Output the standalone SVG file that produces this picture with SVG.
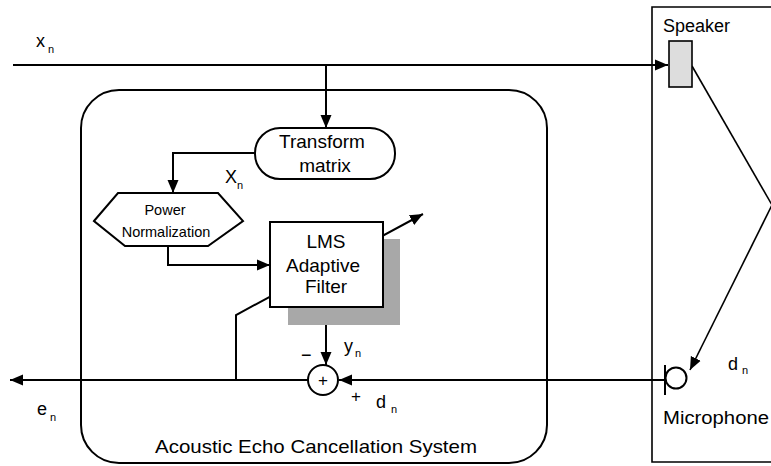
<svg xmlns="http://www.w3.org/2000/svg" width="771" height="466" viewBox="0 0 771 466">
<defs>
<marker id="ah" markerUnits="userSpaceOnUse" markerWidth="14" markerHeight="12" refX="13" refY="6" orient="auto">
<path d="M0,0.5 L13,6 L0,11.5 z" fill="#000"/>
</marker>
<style>
.ln{fill:none;stroke:#000;stroke-width:2}
.bx{fill:#fff;stroke:#000;stroke-width:2}
.t{font-family:"Liberation Sans",Arial,sans-serif;fill:#000}
</style>
</defs>
<rect width="771" height="466" fill="#fff"/>
<g id="aec-system">
<rect x="81" y="90" width="466" height="373" rx="38" ry="38" fill="#fff" stroke="#000" stroke-width="2"/>
<text class="t" x="155" y="453" font-size="19" textLength="322" lengthAdjust="spacingAndGlyphs">Acoustic Echo Cancellation System</text>
</g>
<g id="room">
<path d="M785,7 H652 V462 H785" fill="none" stroke="#000" stroke-width="1.6"/>
</g>
<g id="connectors">
<line class="ln" x1="13" y1="65" x2="668" y2="65" marker-end="url(#ah)"/>
<line class="ln" x1="326" y1="65" x2="326" y2="128" marker-end="url(#ah)"/>
<polyline class="ln" points="255,153 173,153 173,193" marker-end="url(#ah)"/>
<polyline class="ln" points="168,246 168,265 270,265" marker-end="url(#ah)"/>
<polyline class="ln" points="236,380 236,315 423,214" marker-end="url(#ah)"/>
<line class="ln" x1="326" y1="307" x2="326" y2="365" marker-end="url(#ah)"/>
<line class="ln" x1="665" y1="380" x2="339" y2="380" marker-end="url(#ah)"/>
<line class="ln" x1="308" y1="380" x2="10" y2="380" marker-end="url(#ah)"/>
<line stroke="#000" stroke-width="1.6" x1="692" y1="66" x2="772" y2="205"/>
<line stroke="#000" stroke-width="1.6" x1="772" y1="205" x2="690" y2="370" marker-end="url(#ah)"/>
</g>
<g id="transform-matrix">
<rect class="bx" x="255" y="128" width="140" height="51" rx="25" ry="25"/>
<text class="t" x="322" y="148" font-size="19" text-anchor="middle">Transform</text>
<text class="t" x="325" y="172" font-size="19" text-anchor="middle">matrix</text>
</g>
<g id="power-normalization">
<polygon class="bx" points="94,221 118,193 218,193 243,221 208,246 125,246"/>
<text class="t" x="165" y="215" font-size="14.5" text-anchor="middle">Power</text>
<text class="t" x="166" y="237" font-size="14.5" text-anchor="middle">Normalization</text>
</g>
<g id="lms-filter">
<rect x="288" y="239" width="112" height="86" fill="#a8a8a8"/>
<rect class="bx" x="270" y="222" width="113" height="85"/>
<text class="t" x="326" y="248" font-size="19" text-anchor="middle">LMS</text>
<text class="t" x="323" y="272" font-size="19" text-anchor="middle">Adaptive</text>
<text class="t" x="326" y="293" font-size="19" text-anchor="middle">Filter</text>
</g>
<g id="sum">
<circle cx="323" cy="380" r="15" fill="#fff" stroke="#000" stroke-width="2"/>
<text class="t" x="323" y="386" font-size="17" text-anchor="middle">+</text>
</g>
<g id="speaker">
<rect x="669" y="41" width="23" height="46" fill="#ddd" stroke="#000" stroke-width="1.6"/>
<text class="t" x="663" y="32" font-size="18">Speaker</text>
</g>
<g id="microphone">
<line x1="665" y1="365" x2="665" y2="395" stroke="#000" stroke-width="2"/>
<circle cx="676" cy="378" r="10.5" fill="#fff" stroke="#000" stroke-width="2"/>
<text class="t" x="663" y="424" font-size="18" textLength="106" lengthAdjust="spacingAndGlyphs">Microphone</text>
</g>
<g id="labels">
<text class="t" x="36" y="47" font-size="18">x</text>
<text class="t" x="48" y="53" font-size="11">n</text>
<text class="t" x="225" y="183" font-size="18">X</text>
<text class="t" x="237" y="189" font-size="11">n</text>
<text class="t" x="344" y="352" font-size="18">y</text>
<text class="t" x="355" y="357" font-size="11">n</text>
<text class="t" x="301" y="361" font-size="18">−</text>
<text class="t" x="351" y="402" font-size="17">+</text>
<text class="t" x="376" y="408" font-size="18">d</text>
<text class="t" x="391" y="413" font-size="11">n</text>
<text class="t" x="37" y="415" font-size="18">e</text>
<text class="t" x="50" y="421" font-size="11">n</text>
<text class="t" x="728" y="370" font-size="18">d</text>
<text class="t" x="742" y="374" font-size="11">n</text>
</g>
</svg>
